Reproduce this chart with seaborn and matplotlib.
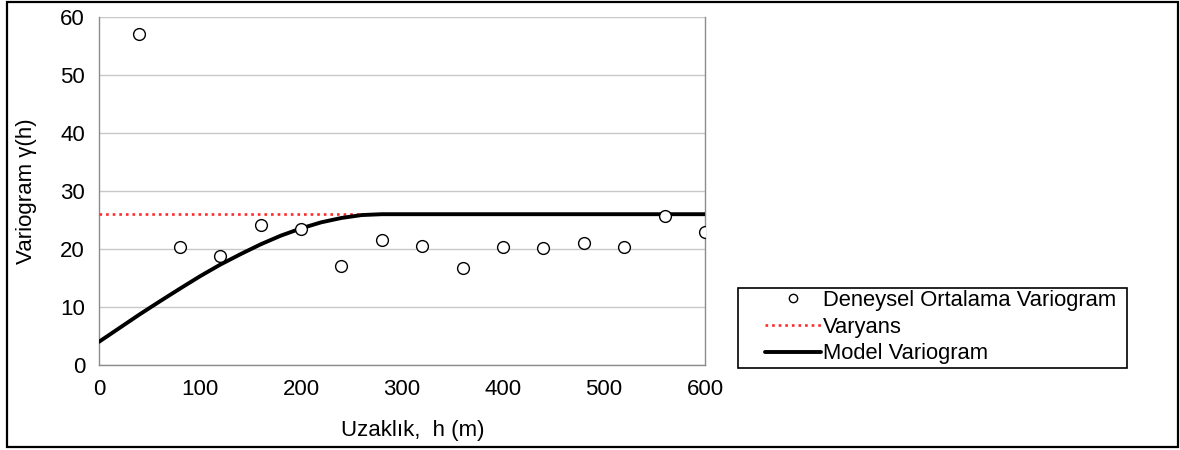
import matplotlib
matplotlib.use("Agg")
import matplotlib.pyplot as plt
import seaborn as sns
import pandas as pd
from matplotlib.patches import Rectangle
from matplotlib.lines import Line2D

# Experimental mean variogram
lag_h = [40, 80, 120, 160, 200, 240, 280, 320, 360, 400, 440, 480, 520, 560, 600]
gamma_exp = [57.0, 20.3, 18.8, 24.2, 23.4, 17.0, 21.6, 20.6, 16.7, 20.3, 20.1, 21.1, 20.3, 25.7, 22.9]

# Fitted model variogram
model_h = [0, 20, 40, 60, 80, 100, 120, 140, 160, 180, 200, 220, 240, 260, 280,
           320, 360, 400, 440, 480, 520, 560, 600]
gamma_model = [4.0, 6.35, 8.7, 10.95, 13.15, 15.3, 17.3, 19.1, 20.8, 22.3, 23.55,
               24.6, 25.35, 25.85, 26.0, 26.0, 26.0, 26.0, 26.0, 26.0, 26.0, 26.0, 26.0]

# Sample variance
variance = 26.0
var_h = [0, 600]

x_ticks = [0, 100, 200, 300, 400, 500, 600]
y_ticks = [0, 10, 20, 30, 40, 50, 60]

sns.set_theme(style="white")
plt.rcParams["font.family"] = ["Liberation Sans", "DejaVu Sans"]
plt.rcParams["text.color"] = "black"
plt.rcParams["axes.labelcolor"] = "black"

W, H = 1180, 450
fig = plt.figure(figsize=(W / 100, H / 100), dpi=100)
ax = fig.add_axes([99 / W, 85 / H, 606 / W, 348 / H])

grid_c = "#c8c8c8"
axis_c = "#8c8c8c"
red = "#ff2a2a"

df_exp = pd.DataFrame({"h": lag_h, "g": gamma_exp})
df_mod = pd.DataFrame({"h": model_h, "g": gamma_model})
df_var = pd.DataFrame({"h": var_h, "g": [variance] * len(var_h)})

sns.lineplot(data=df_var, x="h", y="g", ax=ax, color=red, lw=1.9,
             linestyle=(0, (1, 1.5)), zorder=3)
sns.lineplot(data=df_mod, x="h", y="g", ax=ax, color="black", lw=2.8, zorder=4)
sns.scatterplot(data=df_exp, x="h", y="g", ax=ax, marker="o", s=72,
                facecolor="white", edgecolor="black", linewidth=1.0, zorder=5)

ax.set_xlim(0, 600)
ax.set_ylim(0, 60)
ax.set_xticks(x_ticks)
ax.set_yticks(y_ticks)
ax.yaxis.grid(True, color=grid_c, lw=1.0)
ax.set_axisbelow(True)

for side in ["left", "bottom", "right"]:
    ax.spines[side].set_visible(True)
    ax.spines[side].set_color(axis_c)
    ax.spines[side].set_linewidth(1.0)
ax.spines["top"].set_visible(False)

ax.tick_params(axis="both", which="major", direction="out", length=5, width=1,
               color=axis_c, labelsize=16, labelcolor="black", pad=5)
ax.tick_params(right=False)

ax.set_xlabel("Uzaklık,  h (m)", fontsize=16, color="black")
ax.set_ylabel("Variogram γ(h)", fontsize=16, color="black")
ax.xaxis.set_label_coords(0.517, -0.157)
ax.yaxis.set_label_coords(-0.102, 0.5)

# Legend frame and entries
fig.patches.append(Rectangle((738 / W, 82 / H), 389 / W, 80 / H,
                             transform=fig.transFigure, fill=False,
                             edgecolor="black", lw=1.2))
handles = [
    Line2D([], [], marker="o", linestyle="none", markersize=6,
           markerfacecolor="white", markeredgecolor="black", markeredgewidth=1.0),
    Line2D([], [], color=red, lw=1.9, linestyle=(0, (1, 1.5))),
    Line2D([], [], color="black", lw=2.8),
]
labels = ["Deneysel Ortalama Variogram", "Varyans", "Model Variogram"]
fig.legend(handles, labels, loc="center left",
           bbox_to_anchor=(765 / W, 123 / H), fontsize=15.8, frameon=False,
           handlelength=2.55, handletextpad=0.1, labelspacing=0.26,
           borderpad=0, borderaxespad=0)

# Outer frame around the chart
fig.patches.append(Rectangle((7 / W, 3 / H), 1171 / W, 445 / H,
                             transform=fig.transFigure, fill=False,
                             edgecolor="black", lw=1.6))

fig.savefig("out.png", dpi=100)
